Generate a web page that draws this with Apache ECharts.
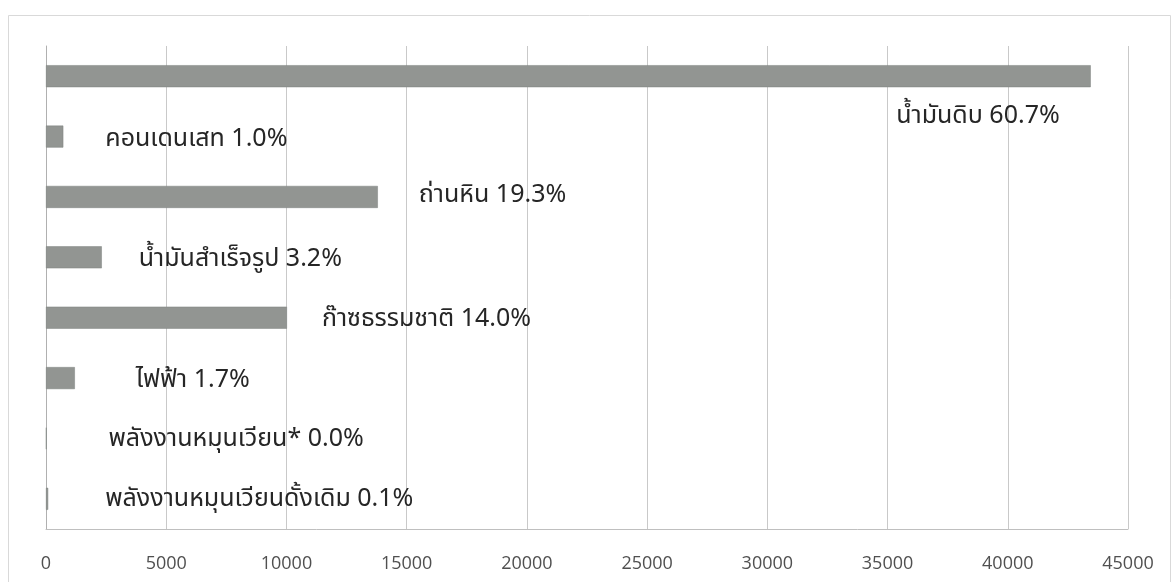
<!DOCTYPE html>
<html>
<head>
<meta charset="utf-8">
<script src="https://cdn.jsdelivr.net/npm/echarts@6/dist/echarts.min.js"></script>
<style>
  html, body { margin: 0; padding: 0; background: #ffffff; }
  #chart { width: 1174px; height: 582px; }
</style>
</head>
<body>
<div id="chart"></div>
<script>
// ---- data ----
const categories = ['น้ำมันดิบ', 'คอนเดนเสท', 'ถ่านหิน', 'น้ำมันสำเร็จรูป', 'ก๊าซธรรมชาติ', 'ไฟฟ้า', 'พลังงานหมุนเวียน*', 'พลังงานหมุนเวียนดั้งเดิม'];
const values = [43450, 720, 13800, 2320, 10020, 1200, 20, 90];
const shares = ['60.7%', '1.0%', '19.3%', '3.2%', '14.0%', '1.7%', '0.0%', '0.1%'];
const xTicks = [0, 5000, 10000, 15000, 20000, 25000, 30000, 35000, 40000, 45000];

// ---- label placement (style) ----
const labelPos = ['insideRight', 'right', 'right', 'right', 'right', 'right', 'right', 'right'];
const labelDx = [-31, 42, 41, 37, 35, 61, 62, 57];
const labelDy = [42, 4, 0, 4, 3, 4, 3, 2];

const FONT = '"Noto Sans Thai", "Noto Sans", "DejaVu Sans", sans-serif';

const chart = echarts.init(document.getElementById('chart'), null, { renderer: 'canvas' });

const seriesData = values.map((v, i) => ({
  value: v,
  label: {
    show: true,
    position: labelPos[i],
    distance: 0,
    offset: [labelDx[i], labelDy[i]],
    formatter: categories[i] + ' ' + shares[i]
  }
}));

chart.setOption({
  backgroundColor: '#ffffff',
  animation: false,
  graphic: [{
    type: 'rect',
    shape: { x: 8.5, y: 15.5, width: 1162, height: 600 },
    style: { fill: 'none', stroke: '#d9d9d9', lineWidth: 1 },
    silent: true,
    z: -1
  }],
  grid: { left: 46, right: 46, top: 46, bottom: 53, outerBoundsMode: 'none', containLabel: false },
  xAxis: {
    type: 'value',
    min: xTicks[0],
    max: xTicks[xTicks.length - 1],
    interval: xTicks[1] - xTicks[0],
    axisLine: { show: true, lineStyle: { color: '#bfbfbf' } },
    axisTick: { show: false },
    splitLine: { show: true, lineStyle: { color: '#c9c9c9', width: 1 } },
    axisLabel: { color: '#505050', fontSize: 18, margin: 26, fontFamily: '"Open Sans", sans-serif', formatter: v => String(v) }
  },
  yAxis: {
    type: 'category',
    data: categories,
    inverse: true,
    axisLine: { show: true, lineStyle: { color: '#b0b0b0' } },
    axisTick: { show: false },
    axisLabel: { show: false }
  },
  series: [{
    type: 'bar',
    data: seriesData,
    barWidth: 22,
    itemStyle: { color: '#929592', borderColor: '#7d817e', borderWidth: 0.5 },
    label: { color: '#262626', fontSize: 25, fontFamily: FONT }
  }]
});
</script>
</body>
</html>
